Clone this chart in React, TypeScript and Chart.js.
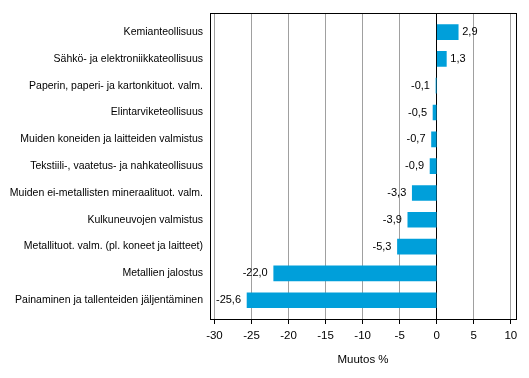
import React, { useEffect, useRef } from "react";
import { Chart, registerables } from "chart.js";

Chart.register(...registerables);

const categories: string[] = [
  "Kemianteollisuus",
  "Sähkö- ja elektroniikkateollisuus",
  "Paperin, paperi- ja kartonkituot. valm.",
  "Elintarviketeollisuus",
  "Muiden koneiden ja laitteiden valmistus",
  "Tekstiili-, vaatetus- ja nahkateollisuus",
  "Muiden ei-metallisten mineraalituot. valm.",
  "Kulkuneuvojen valmistus",
  "Metallituot. valm. (pl. koneet ja laitteet)",
  "Metallien jalostus",
  "Painaminen ja tallenteiden jäljentäminen",
];

const values: number[] = [2.9, 1.3, -0.1, -0.5, -0.7, -0.9, -3.3, -3.9, -5.3, -22.0, -25.6];

const axisTitle = "Muutos %";
const xMin = -30.6;
const xMax = 10.7;
const xStep = 5;

const FONT = "'Liberation Sans', Arial, sans-serif";
const BAR_COLOR = "#009fda";

const fmt = (v: number) => v.toFixed(1).replace(".", ",");

const framePlugin = {
  id: "frame",
  afterDraw(chart: any) {
    const { ctx, chartArea } = chart;
    ctx.save();
    ctx.strokeStyle = "#000";
    ctx.lineWidth = 1;
    ctx.strokeRect(
      Math.round(chartArea.left) + 0.5,
      Math.round(chartArea.top) + 0.5,
      Math.round(chartArea.right - chartArea.left),
      Math.round(chartArea.bottom - chartArea.top)
    );
    ctx.restore();
  },
};

const labelPlugin = {
  id: "valueLabels",
  afterDatasetsDraw(chart: any) {
    const { ctx } = chart;
    const meta = chart.getDatasetMeta(0);
    ctx.save();
    ctx.font = `11px ${FONT}`;
    ctx.fillStyle = "#000";
    ctx.textBaseline = "middle";
    meta.data.forEach((bar: any, i: number) => {
      const v = values[i];
      if (v >= 0) {
        ctx.textAlign = "left";
        ctx.fillText(fmt(v), bar.x + 4, bar.y);
      } else {
        ctx.textAlign = "right";
        ctx.fillText(fmt(v), bar.x - 6, bar.y);
      }
    });
    ctx.restore();
  },
};

export default function App() {
  const ref = useRef<HTMLCanvasElement | null>(null);

  useEffect(() => {
    if (!ref.current) return;
    const chart = new Chart(ref.current, {
      type: "bar",
      data: {
        datasets: [
          {
            data: values.map((v, i) => ({ x: v, y: i })) as any,
            backgroundColor: BAR_COLOR,
            borderWidth: 0,
            barThickness: 15,
          },
        ],
      },
      options: {
        indexAxis: "y",
        animation: false,
        responsive: false,
        layout: { padding: { left: 0, right: 13, top: 10, bottom: 0 } },
        plugins: {
          legend: { display: false },
          tooltip: { enabled: false },
        },
        scales: {
          x: {
            type: "linear",
            position: "bottom",
            min: xMin,
            max: xMax,
            offset: false,
            ticks: {
              stepSize: xStep,
              includeBounds: false,
              color: "#000",
              font: { family: FONT, size: 11.5 },
              padding: 5,
              maxRotation: 0,
              callback: (v: any) => String(v),
            },
            grid: {
              color: (c: any) => (c.tick && c.tick.value === 0 ? "#000" : "#a0a0a0"),
              tickColor: "#000",
              tickLength: 5,
              drawTicks: true,
            },
            border: { display: true, color: "#000" },
            title: {
              display: true,
              text: axisTitle,
              color: "#000",
              font: { family: FONT, size: 11.5 },
              padding: { top: 4, bottom: 11 },
            },
            afterFit: (s: any) => {
              s.height = 59;
            },
          },
          y: {
            type: "linear",
            reverse: true,
            offset: false,
            min: -0.7,
            max: 10.7,
            ticks: {
              stepSize: 1,
              includeBounds: false,
              autoSkip: false,
              color: "#000",
              font: { family: FONT, size: 10.5 },
              padding: 7,
              callback: (v: any) => categories[v] ?? "",
            },
            grid: { display: false, drawTicks: false },
            border: { display: true, color: "#000" },
            afterFit: (s: any) => {
              s.width = 210;
            },
          },
        },
      },
      plugins: [framePlugin, labelPlugin],
    });
    return () => chart.destroy();
  }, []);

  return (
    <div style={{ position: "absolute", left: 0, top: 0, width: 529, height: 378, background: "#fff" }}>
      <canvas ref={ref} width={529} height={378} style={{ display: "block" }} />
    </div>
  );
}
